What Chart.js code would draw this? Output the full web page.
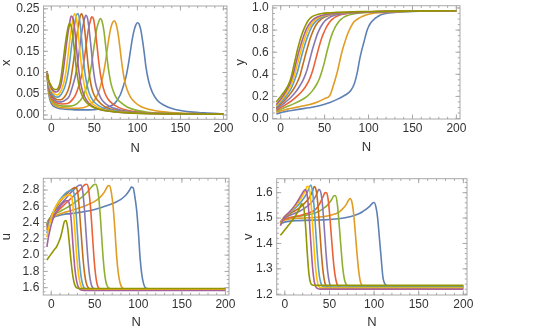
<!DOCTYPE html>
<html>
<head>
<meta charset="utf-8">
<script src="https://cdn.jsdelivr.net/npm/chart.js@4/dist/chart.umd.min.js"></script>
<style>
  body { margin: 0; background: #fff; width: 545px; height: 332px; position: relative; overflow: hidden; }
  canvas { position: absolute; }
</style>
</head>
<body>
<canvas id="plot-x" width="245" height="166" style="left:0;top:0"></canvas>
<canvas id="plot-y" width="315" height="166" style="left:230px;top:0"></canvas>
<canvas id="plot-u" width="245" height="166" style="left:0;top:166px"></canvas>
<canvas id="plot-v" width="313" height="166" style="left:232px;top:166px"></canvas>
<script>
"use strict";
// one N grid per curve (curves 1..10), shared by the four panels
const nSteps = [
  [-5,-4,-3,-1,1,4,8,14,22,32,44,56,66,74,80,84,87,90,92,94,96,98,100,102,104,106,108,110,113,117,123,131,142,158,178,200],
  [-5,-4,-3,-1,1,4,8,14,22,32,42,50,56,60,63,65,67,69,71,73,75,77,79,81,83,85,88,92,97,104,114,130,150,175,200],
  [-5,-4,-3,-1,1,4,8,14,22,30,36,41,44,47,49,51,53,55,57,59,61,63,65,67,69,72,76,81,88,98,112,130,155,180,200],
  [-5,-4,-3,-1,1,4,8,13,19,24,28,32,35,37,39,41,43,45,47,49,51,53,55,57,59,62,66,71,78,88,102,120,145,170,200],
  [-5,-4,-3,-1,1,4,8,12,17,21,25,28,30,32,34,36,38,40,42,44,46,48,50,52,55,59,64,71,80,92,108,130,155,180,200],
  [-5,-4,-3,-1,1,4,7,11,15,19,22,25,27,29,31,33,35,37,39,41,43,45,47,50,54,59,66,75,87,102,120,145,170,200],
  [-5,-4,-3,-1,1,4,7,10,13,16,19,21,23,25,27,29,31,33,35,37,39,41,43,46,50,55,62,71,83,98,118,145,170,200],
  [-5,-4,-3,-1,1,4,7,10,13,15,17,19,21,23,25,27,29,31,33,35,37,39,41,44,48,53,60,69,81,96,116,145,170,200],
  [-5,-4,-3,-1,1,3,6,9,11,13,15,17,19,21,23,25,27,29,31,33,35,37,40,44,49,56,65,77,92,112,140,170,200],
  [-5,-4,-3,-1,1,3,6,9,11,13,15,17,19,21,23,25,27,29,31,33,35,38,42,47,54,63,75,90,110,140,170,200]
];

const xValues = [
  [0.103,0.07,0.05,0.032,0.024,0.019,0.016,0.014,0.013,0.012,0.012,0.014,0.019,0.028,0.047,0.07,0.092,0.125,0.152,0.178,0.198,0.211,0.217,0.214,0.2,0.175,0.145,0.112,0.08,0.055,0.035,0.023,0.014,0.008,0.005,0.003],
  [0.103,0.072,0.054,0.037,0.029,0.023,0.019,0.017,0.016,0.016,0.021,0.034,0.06,0.092,0.126,0.155,0.183,0.204,0.217,0.222,0.216,0.198,0.17,0.136,0.106,0.082,0.06,0.042,0.03,0.02,0.013,0.0075,0.0045,0.003,0.0022],
  [0.103,0.074,0.058,0.042,0.033,0.027,0.023,0.021,0.021,0.027,0.041,0.066,0.089,0.122,0.152,0.18,0.205,0.219,0.227,0.22,0.199,0.165,0.13,0.1,0.077,0.056,0.039,0.029,0.019,0.0115,0.0065,0.0042,0.003,0.0024,0.002],
  [0.103,0.076,0.062,0.046,0.038,0.031,0.027,0.026,0.027,0.035,0.047,0.069,0.092,0.115,0.143,0.173,0.201,0.219,0.231,0.226,0.2,0.165,0.127,0.097,0.075,0.053,0.037,0.027,0.018,0.011,0.0065,0.0042,0.003,0.0024,0.002],
  [0.103,0.078,0.065,0.05,0.042,0.035,0.031,0.031,0.036,0.045,0.07,0.093,0.116,0.144,0.175,0.202,0.222,0.235,0.228,0.2,0.162,0.122,0.09,0.069,0.051,0.035,0.025,0.017,0.012,0.0075,0.005,0.0035,0.0027,0.0023,0.002],
  [0.103,0.08,0.068,0.054,0.046,0.039,0.036,0.036,0.042,0.056,0.077,0.115,0.145,0.177,0.205,0.228,0.238,0.228,0.196,0.154,0.112,0.084,0.063,0.046,0.034,0.024,0.016,0.011,0.0075,0.005,0.0037,0.0028,0.0023,0.002],
  [0.103,0.082,0.071,0.058,0.05,0.044,0.042,0.045,0.054,0.068,0.094,0.12,0.154,0.186,0.212,0.234,0.239,0.222,0.183,0.138,0.1,0.076,0.058,0.042,0.03,0.022,0.015,0.011,0.0075,0.005,0.0037,0.0028,0.0023,0.002],
  [0.103,0.085,0.075,0.063,0.055,0.049,0.047,0.053,0.066,0.08,0.102,0.133,0.168,0.198,0.225,0.238,0.228,0.198,0.155,0.115,0.085,0.064,0.05,0.036,0.026,0.019,0.013,0.0095,0.0068,0.0048,0.0036,0.0027,0.0023,0.002],
  [0.103,0.088,0.079,0.068,0.06,0.056,0.054,0.06,0.07,0.092,0.122,0.156,0.188,0.213,0.233,0.228,0.204,0.162,0.12,0.088,0.066,0.052,0.038,0.027,0.019,0.013,0.0095,0.0068,0.0048,0.0036,0.0027,0.0023,0.002],
  [0.103,0.09,0.082,0.072,0.065,0.061,0.06,0.068,0.085,0.115,0.148,0.178,0.202,0.215,0.21,0.186,0.148,0.11,0.082,0.062,0.05,0.037,0.027,0.02,0.014,0.01,0.0072,0.005,0.0037,0.0027,0.0023,0.002]
];

const yValues = [
  [0.04,0.043,0.046,0.051,0.055,0.06,0.067,0.075,0.085,0.097,0.115,0.145,0.18,0.215,0.255,0.32,0.41,0.54,0.61,0.67,0.73,0.79,0.83,0.86,0.88,0.895,0.91,0.92,0.935,0.946,0.955,0.961,0.966,0.97,0.973,0.975],
  [0.055,0.058,0.061,0.066,0.071,0.077,0.085,0.095,0.108,0.125,0.15,0.18,0.21,0.3,0.38,0.44,0.51,0.58,0.64,0.69,0.74,0.78,0.815,0.845,0.87,0.885,0.903,0.92,0.937,0.95,0.958,0.965,0.97,0.973,0.975],
  [0.065,0.069,0.073,0.08,0.087,0.097,0.11,0.13,0.16,0.2,0.25,0.31,0.36,0.43,0.485,0.55,0.615,0.675,0.73,0.775,0.81,0.84,0.865,0.885,0.9,0.917,0.932,0.944,0.953,0.96,0.965,0.969,0.972,0.974,0.975],
  [0.075,0.08,0.085,0.094,0.103,0.117,0.137,0.165,0.205,0.245,0.285,0.34,0.4,0.45,0.51,0.57,0.63,0.685,0.735,0.775,0.81,0.84,0.865,0.885,0.9,0.917,0.932,0.943,0.952,0.959,0.964,0.968,0.971,0.973,0.975],
  [0.085,0.091,0.097,0.108,0.12,0.138,0.165,0.195,0.24,0.285,0.34,0.395,0.44,0.5,0.56,0.62,0.675,0.725,0.77,0.805,0.835,0.86,0.88,0.895,0.912,0.927,0.939,0.948,0.955,0.961,0.965,0.969,0.972,0.974,0.975],
  [0.095,0.102,0.109,0.123,0.138,0.16,0.185,0.225,0.27,0.33,0.39,0.48,0.54,0.6,0.655,0.71,0.755,0.795,0.83,0.855,0.875,0.89,0.903,0.918,0.931,0.942,0.951,0.957,0.962,0.966,0.969,0.972,0.974,0.975],
  [0.105,0.113,0.121,0.137,0.153,0.18,0.21,0.245,0.29,0.35,0.42,0.48,0.54,0.6,0.655,0.705,0.75,0.79,0.825,0.85,0.87,0.886,0.898,0.912,0.925,0.936,0.946,0.953,0.959,0.964,0.968,0.971,0.973,0.975],
  [0.115,0.124,0.133,0.151,0.17,0.2,0.235,0.275,0.33,0.375,0.43,0.49,0.55,0.61,0.665,0.715,0.76,0.8,0.83,0.855,0.875,0.89,0.902,0.916,0.929,0.94,0.948,0.955,0.96,0.964,0.968,0.971,0.973,0.975],
  [0.125,0.135,0.145,0.165,0.186,0.208,0.245,0.29,0.325,0.37,0.425,0.49,0.555,0.615,0.67,0.72,0.765,0.805,0.835,0.86,0.88,0.895,0.912,0.926,0.937,0.946,0.953,0.959,0.963,0.967,0.971,0.973,0.975],
  [0.15,0.16,0.17,0.19,0.21,0.23,0.265,0.31,0.35,0.41,0.48,0.55,0.62,0.68,0.735,0.78,0.82,0.855,0.882,0.902,0.917,0.931,0.942,0.95,0.956,0.96,0.964,0.967,0.969,0.972,0.974,0.975]
];

const uValues = [
  [2.37,2.39,2.41,2.43,2.45,2.47,2.485,2.5,2.51,2.525,2.545,2.58,2.615,2.65,2.685,2.72,2.755,2.8,2.835,2.83,2.72,2.56,2.3,1.97,1.76,1.65,1.6,1.59,1.585,1.585,1.585,1.585,1.585,1.585,1.585,1.585],
  [2.39,2.41,2.43,2.45,2.465,2.48,2.5,2.52,2.545,2.58,2.62,2.66,2.71,2.76,2.815,2.85,2.855,2.77,2.6,2.33,2.0,1.78,1.66,1.605,1.588,1.582,1.58,1.58,1.58,1.58,1.58,1.58,1.58,1.58,1.58],
  [2.38,2.41,2.435,2.46,2.48,2.5,2.525,2.56,2.61,2.67,2.72,2.77,2.81,2.845,2.865,2.87,2.82,2.66,2.38,2.05,1.8,1.66,1.605,1.59,1.586,1.585,1.585,1.585,1.585,1.585,1.585,1.585,1.585,1.585,1.585],
  [2.36,2.39,2.42,2.455,2.48,2.51,2.55,2.6,2.66,2.71,2.75,2.79,2.825,2.85,2.867,2.87,2.8,2.6,2.3,1.98,1.75,1.63,1.59,1.58,1.577,1.575,1.575,1.575,1.575,1.575,1.575,1.575,1.575,1.575,1.575],
  [2.34,2.375,2.41,2.46,2.5,2.54,2.59,2.64,2.7,2.75,2.795,2.825,2.845,2.858,2.86,2.8,2.58,2.27,1.97,1.75,1.64,1.595,1.58,1.573,1.57,1.57,1.57,1.57,1.57,1.57,1.57,1.57,1.57,1.57,1.57],
  [2.31,2.35,2.39,2.45,2.5,2.56,2.61,2.67,2.72,2.765,2.795,2.82,2.83,2.825,2.72,2.46,2.17,1.9,1.72,1.63,1.595,1.582,1.577,1.575,1.575,1.575,1.575,1.575,1.575,1.575,1.575,1.575,1.575,1.575],
  [2.27,2.32,2.37,2.44,2.5,2.57,2.63,2.68,2.72,2.755,2.78,2.792,2.8,2.79,2.7,2.45,2.12,1.85,1.69,1.615,1.59,1.583,1.58,1.58,1.58,1.58,1.58,1.58,1.58,1.58,1.58,1.58,1.58,1.58],
  [2.22,2.28,2.33,2.42,2.49,2.57,2.63,2.67,2.7,2.715,2.728,2.737,2.74,2.73,2.6,2.33,2.02,1.79,1.66,1.6,1.583,1.577,1.575,1.575,1.575,1.575,1.575,1.575,1.575,1.575,1.575,1.575,1.575,1.575],
  [2.1,2.17,2.23,2.33,2.41,2.47,2.53,2.58,2.61,2.635,2.655,2.668,2.668,2.62,2.42,2.12,1.85,1.69,1.61,1.58,1.57,1.567,1.565,1.565,1.565,1.565,1.565,1.565,1.565,1.565,1.565,1.565,1.565],
  [1.94,1.955,1.97,2.0,2.03,2.06,2.1,2.17,2.23,2.32,2.41,2.425,2.33,2.12,1.9,1.73,1.635,1.6,1.592,1.59,1.59,1.59,1.59,1.59,1.59,1.59,1.59,1.59,1.59,1.59,1.59,1.59]
];

const vValues = [
  [1.475,1.478,1.48,1.483,1.485,1.487,1.489,1.49,1.491,1.492,1.493,1.496,1.5,1.506,1.513,1.519,1.525,1.532,1.537,1.543,1.55,1.558,1.561,1.545,1.5,1.42,1.34,1.265,1.237,1.232,1.232,1.232,1.232,1.232,1.232,1.232],
  [1.48,1.483,1.486,1.49,1.493,1.495,1.497,1.499,1.5,1.502,1.505,1.51,1.516,1.522,1.53,1.537,1.545,1.555,1.568,1.577,1.565,1.52,1.44,1.355,1.285,1.245,1.232,1.23,1.23,1.23,1.23,1.23,1.23,1.23,1.23],
  [1.482,1.486,1.49,1.494,1.497,1.5,1.503,1.506,1.51,1.516,1.523,1.532,1.54,1.548,1.556,1.565,1.576,1.588,1.588,1.55,1.47,1.38,1.3,1.255,1.238,1.233,1.233,1.233,1.233,1.233,1.233,1.233,1.233,1.233,1.233],
  [1.484,1.488,1.492,1.495,1.497,1.5,1.503,1.507,1.512,1.517,1.522,1.528,1.536,1.545,1.556,1.571,1.585,1.6,1.598,1.56,1.48,1.39,1.31,1.26,1.236,1.228,1.226,1.226,1.226,1.226,1.226,1.226,1.226,1.226,1.226],
  [1.483,1.488,1.493,1.499,1.503,1.508,1.514,1.52,1.528,1.536,1.546,1.555,1.562,1.571,1.582,1.597,1.613,1.605,1.56,1.47,1.37,1.29,1.245,1.228,1.222,1.222,1.222,1.222,1.222,1.222,1.222,1.222,1.222,1.222,1.222],
  [1.481,1.487,1.493,1.501,1.506,1.513,1.52,1.528,1.537,1.548,1.558,1.569,1.578,1.59,1.606,1.624,1.61,1.555,1.46,1.36,1.285,1.243,1.23,1.226,1.225,1.225,1.225,1.225,1.225,1.225,1.225,1.225,1.225,1.225],
  [1.479,1.486,1.493,1.503,1.509,1.517,1.525,1.534,1.544,1.555,1.567,1.577,1.588,1.6,1.617,1.63,1.605,1.535,1.43,1.33,1.265,1.238,1.23,1.228,1.228,1.228,1.228,1.228,1.228,1.228,1.228,1.228,1.228,1.228],
  [1.476,1.484,1.492,1.503,1.51,1.519,1.529,1.54,1.552,1.561,1.571,1.582,1.594,1.608,1.625,1.622,1.575,1.48,1.37,1.285,1.24,1.227,1.224,1.224,1.224,1.224,1.224,1.224,1.224,1.224,1.224,1.224,1.224,1.224],
  [1.47,1.479,1.488,1.501,1.51,1.517,1.528,1.54,1.549,1.559,1.57,1.582,1.594,1.606,1.612,1.59,1.52,1.41,1.31,1.25,1.228,1.222,1.22,1.22,1.22,1.22,1.22,1.22,1.22,1.22,1.22,1.22,1.22],
  [1.432,1.436,1.44,1.449,1.458,1.467,1.48,1.494,1.504,1.515,1.528,1.543,1.556,1.545,1.48,1.37,1.28,1.243,1.236,1.235,1.235,1.235,1.235,1.235,1.235,1.235,1.235,1.235,1.235,1.235,1.235,1.235]
];

const seriesColors = ["#5e81b5", "#e19c24", "#8fb032", "#eb6235", "#8778b3",
                      "#c56e1a", "#5d9ec7", "#ffbf00", "#a5609d", "#929600"];

const textColor = "#333";
const frameColor = "#a8a8a8";
const fontFamily = "'Liberation Sans', Arial, sans-serif";

// frame with inward ticks on all four sides, like a Mathematica frame
const framePlugin = {
    id: "frame",
    afterDatasetsDraw(chart, args, opts) {
        const { ctx, chartArea: a, scales } = chart;
        ctx.save();
        ctx.strokeStyle = frameColor;
        ctx.lineWidth = 1;
        ctx.strokeRect(a.left, a.top, a.right - a.left, a.bottom - a.top);
        const marks = (scale, step) => {
            const out = [];
            for (let k = Math.ceil(scale.min / step); k * step <= scale.max; k++) {
                out.push({ value: k * step, len: 2.2 });
            }
            scale.ticks.forEach((t) => out.push({ value: t.value, len: 4.5 }));
            return out;
        };
        ctx.beginPath();
        marks(scales.x, opts.xMinor).forEach((m) => {
            const px = scales.x.getPixelForValue(m.value);
            ctx.moveTo(px, a.bottom); ctx.lineTo(px, a.bottom - m.len);
            ctx.moveTo(px, a.top); ctx.lineTo(px, a.top + m.len);
        });
        marks(scales.y, opts.yMinor).forEach((m) => {
            const py = scales.y.getPixelForValue(m.value);
            ctx.moveTo(a.left, py); ctx.lineTo(a.left + m.len, py);
            ctx.moveTo(a.right, py); ctx.lineTo(a.right - m.len, py);
        });
        ctx.stroke();
        ctx.restore();
    },
};

const makePanel = (id, values, p) => {
    const datasets = values.map((vals, i) => ({
        data: nSteps[i].map((n, k) => ({ x: n, y: vals[k] })),
        borderColor: seriesColors[i],
        borderWidth: 1.6,
        pointRadius: 0,
        fill: false,
        cubicInterpolationMode: "monotone",
        order: 10 - i,
    }));
    const tickFont = { family: fontFamily, size: 12 };
    const titleFont = { family: fontFamily, size: 13 };
    new Chart(document.getElementById(id), {
        type: "line",
        data: { datasets },
        plugins: [framePlugin],
        options: {
            responsive: false,
            animation: false,
            events: [],
            layout: { padding: { left: 0, top: p.padTop, right: p.padRight, bottom: 0 } },
            plugins: {
                legend: { display: false },
                tooltip: { enabled: false },
                frame: { xMinor: 10, yMinor: p.minor },
            },
            scales: {
                x: {
                    type: "linear",
                    min: -9.1,
                    max: 204.1,
                    afterFit: (s) => { s.height = p.xH; s.paddingLeft = 0; s.paddingRight = 0; },
                    grid: { display: false, drawTicks: false },
                    border: { display: false },
                    ticks: { stepSize: 50, includeBounds: false, padding: 2, color: textColor, font: tickFont, maxRotation: 0, autoSkip: false },
                    title: { display: true, text: "N", color: textColor, font: titleFont, padding: { top: 0, bottom: p.nPad } },
                },
                y: {
                    type: "linear",
                    min: p.min,
                    max: p.max,
                    afterFit: (s) => { s.width = p.yW; s.paddingTop = 0; s.paddingBottom = 0; },
                    grid: { display: false, drawTicks: false },
                    border: { display: false },
                    ticks: { stepSize: p.step, includeBounds: false, padding: 4, color: textColor, font: tickFont,
                             callback: (v) => v.toFixed(p.digits) },
                    title: { display: true, text: p.label, color: textColor, font: titleFont, padding: { top: p.tPad, bottom: 0 } },
                },
            },
        },
    });
};

window.addEventListener("load", () => {
    makePanel("plot-x", xValues, { label: "x", min: -0.0101, max: 0.2566, step: 0.05, minor: 0.01, digits: 2,
        padTop: 6, padRight: 18, yW: 43.5, xH: 46.7, nPad: 10, tPad: -1.5 });
    makePanel("plot-y", yValues, { label: "y", min: -0.0045, max: 1.0208, step: 0.2, minor: 0.05, digits: 1,
        padTop: 5.7, padRight: 85, yW: 42.7, xH: 47, nPad: 11, tPad: 3 });
    makePanel("plot-u", uValues, { label: "u", min: 1.51, max: 2.944, step: 0.2, minor: 0.05, digits: 1,
        padTop: 12.3, padRight: 16, yW: 43.3, xH: 37, nPad: 1.5, tPad: -1.5 });
    makePanel("plot-v", vValues, { label: "v", min: 1.197, max: 1.655, step: 0.1, minor: 0.02, digits: 1,
        padTop: 12.7, padRight: 78, yW: 44.7, xH: 37, nPad: 1.5, tPad: 8.5 });
});
</script>
</body>
</html>
